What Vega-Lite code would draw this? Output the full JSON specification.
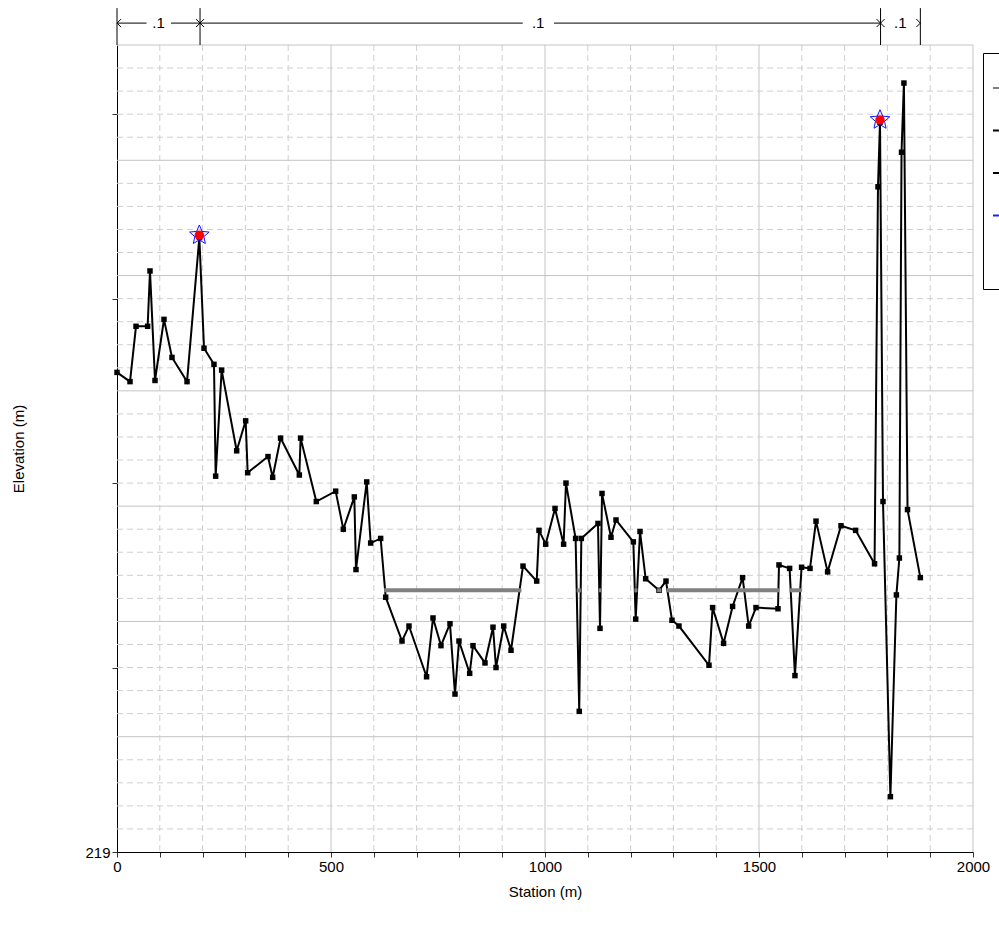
{
  "$schema": "https://vega.github.io/schema/vega-lite/v6.json",
  "width": 856,
  "height": 807,
  "autosize": {"type": "none"},
  "padding": {"left": 117, "top": 45, "right": 26, "bottom": 83},
  "background": "white",
  "config": {
    "view": {"stroke": null},
    "font": "Liberation Sans",
    "axis": {"grid": false, "labelFontSize": 15, "titleFontSize": 15, "titleFontWeight": "normal", "labelColor": "black", "titleColor": "black", "domainColor": "black", "tickColor": "#333333", "tickSize": 5, "labelFlush": false, "labelOverlap": false}
  },
  "datasets": {
    "gx": [
      {"v": 100, "k": "minor"}, {"v": 200, "k": "minor"}, {"v": 300, "k": "minor"}, {"v": 400, "k": "minor"}, {"v": 500, "k": "major"},
      {"v": 600, "k": "minor"}, {"v": 700, "k": "minor"}, {"v": 800, "k": "minor"}, {"v": 900, "k": "minor"}, {"v": 1000, "k": "major"},
      {"v": 1100, "k": "minor"}, {"v": 1200, "k": "minor"}, {"v": 1300, "k": "minor"}, {"v": 1400, "k": "minor"}, {"v": 1500, "k": "major"},
      {"v": 1600, "k": "minor"}, {"v": 1700, "k": "minor"}, {"v": 1800, "k": "minor"}, {"v": 1900, "k": "minor"}, {"v": 2000, "k": "major"}
    ],
    "gy": [
      {"v": 219.2, "k": "minor"}, {"v": 219.4, "k": "minor"}, {"v": 219.6, "k": "minor"}, {"v": 219.8, "k": "minor"}, {"v": 220, "k": "major"},
      {"v": 220.2, "k": "minor"}, {"v": 220.4, "k": "minor"}, {"v": 220.6, "k": "minor"}, {"v": 220.8, "k": "minor"}, {"v": 221, "k": "major"},
      {"v": 221.2, "k": "minor"}, {"v": 221.4, "k": "minor"}, {"v": 221.6, "k": "minor"}, {"v": 221.8, "k": "minor"}, {"v": 222, "k": "major"},
      {"v": 222.2, "k": "minor"}, {"v": 222.4, "k": "minor"}, {"v": 222.6, "k": "minor"}, {"v": 222.8, "k": "minor"}, {"v": 223, "k": "major"},
      {"v": 223.2, "k": "minor"}, {"v": 223.4, "k": "minor"}, {"v": 223.6, "k": "minor"}, {"v": 223.8, "k": "minor"}, {"v": 224, "k": "major"},
      {"v": 224.2, "k": "minor"}, {"v": 224.4, "k": "minor"}, {"v": 224.6, "k": "minor"}, {"v": 224.8, "k": "minor"}, {"v": 225, "k": "major"},
      {"v": 225.2, "k": "minor"}, {"v": 225.4, "k": "minor"}, {"v": 225.6, "k": "minor"}, {"v": 225.8, "k": "minor"}, {"v": 226, "k": "major"}
    ],
    "ground": [
      {"st": 0, "el": 223.16, "s": "Ground"},
      {"st": 30.4, "el": 223.08, "s": "Ground"},
      {"st": 44.4, "el": 223.56, "s": "Ground"},
      {"st": 71.6, "el": 223.56, "s": "Ground"},
      {"st": 77.1, "el": 224.04, "s": "Ground"},
      {"st": 88.8, "el": 223.09, "s": "Ground"},
      {"st": 109.8, "el": 223.62, "s": "Ground"},
      {"st": 128.5, "el": 223.29, "s": "Ground"},
      {"st": 163.6, "el": 223.08, "s": "Ground"},
      {"st": 192.4, "el": 224.33, "s": "Ground"},
      {"st": 203.3, "el": 223.37, "s": "Ground"},
      {"st": 226.6, "el": 223.23, "s": "Ground"},
      {"st": 230.5, "el": 222.26, "s": "Ground"},
      {"st": 244.5, "el": 223.18, "s": "Ground"},
      {"st": 279.6, "el": 222.48, "s": "Ground"},
      {"st": 300.6, "el": 222.74, "s": "Ground"},
      {"st": 305.3, "el": 222.29, "s": "Ground"},
      {"st": 352.8, "el": 222.43, "s": "Ground"},
      {"st": 363.7, "el": 222.25, "s": "Ground"},
      {"st": 382.2, "el": 222.59, "s": "Ground"},
      {"st": 426, "el": 222.27, "s": "Ground"},
      {"st": 429, "el": 222.59, "s": "Ground"},
      {"st": 465.7, "el": 222.04, "s": "Ground"},
      {"st": 510.9, "el": 222.13, "s": "Ground"},
      {"st": 528.8, "el": 221.8, "s": "Ground"},
      {"st": 554.5, "el": 222.08, "s": "Ground"},
      {"st": 558.4, "el": 221.45, "s": "Ground"},
      {"st": 583.4, "el": 222.21, "s": "Ground"},
      {"st": 592.7, "el": 221.68, "s": "Ground"},
      {"st": 616, "el": 221.72, "s": "Ground"},
      {"st": 627.8, "el": 221.21, "s": "Ground"},
      {"st": 665.9, "el": 220.83, "s": "Ground"},
      {"st": 682.2, "el": 220.96, "s": "Ground"},
      {"st": 723.3, "el": 220.52, "s": "Ground"},
      {"st": 738.3, "el": 221.03, "s": "Ground"},
      {"st": 757, "el": 220.79, "s": "Ground"},
      {"st": 778, "el": 220.98, "s": "Ground"},
      {"st": 789.7, "el": 220.37, "s": "Ground"},
      {"st": 799, "el": 220.83, "s": "Ground"},
      {"st": 824, "el": 220.55, "s": "Ground"},
      {"st": 831.8, "el": 220.79, "s": "Ground"},
      {"st": 859.8, "el": 220.64, "s": "Ground"},
      {"st": 878.5, "el": 220.95, "s": "Ground"},
      {"st": 885.5, "el": 220.6, "s": "Ground"},
      {"st": 903.5, "el": 220.96, "s": "Ground"},
      {"st": 920.6, "el": 220.75, "s": "Ground"},
      {"st": 948.6, "el": 221.48, "s": "Ground"},
      {"st": 980.6, "el": 221.35, "s": "Ground"},
      {"st": 986, "el": 221.79, "s": "Ground"},
      {"st": 1001.6, "el": 221.67, "s": "Ground"},
      {"st": 1023.4, "el": 221.98, "s": "Ground"},
      {"st": 1043.5, "el": 221.67, "s": "Ground"},
      {"st": 1049, "el": 222.2, "s": "Ground"},
      {"st": 1071.5, "el": 221.72, "s": "Ground"},
      {"st": 1080, "el": 220.22, "s": "Ground"},
      {"st": 1084.9, "el": 221.72, "s": "Ground"},
      {"st": 1123.8, "el": 221.85, "s": "Ground"},
      {"st": 1128.5, "el": 220.94, "s": "Ground"},
      {"st": 1133.2, "el": 222.11, "s": "Ground"},
      {"st": 1154.2, "el": 221.73, "s": "Ground"},
      {"st": 1165.9, "el": 221.88, "s": "Ground"},
      {"st": 1206.4, "el": 221.69, "s": "Ground"},
      {"st": 1211.9, "el": 221.02, "s": "Ground"},
      {"st": 1222, "el": 221.78, "s": "Ground"},
      {"st": 1235.2, "el": 221.37, "s": "Ground"},
      {"st": 1266.4, "el": 221.27, "s": "Ground"},
      {"st": 1282.7, "el": 221.35, "s": "Ground"},
      {"st": 1296.7, "el": 221.01, "s": "Ground"},
      {"st": 1313, "el": 220.96, "s": "Ground"},
      {"st": 1383.2, "el": 220.62, "s": "Ground"},
      {"st": 1391.6, "el": 221.12, "s": "Ground"},
      {"st": 1417.3, "el": 220.81, "s": "Ground"},
      {"st": 1438.3, "el": 221.13, "s": "Ground"},
      {"st": 1461.7, "el": 221.38, "s": "Ground"},
      {"st": 1475.9, "el": 220.96, "s": "Ground"},
      {"st": 1493, "el": 221.12, "s": "Ground"},
      {"st": 1544.4, "el": 221.11, "s": "Ground"},
      {"st": 1546.7, "el": 221.49, "s": "Ground"},
      {"st": 1571.5, "el": 221.46, "s": "Ground"},
      {"st": 1584, "el": 220.53, "s": "Ground"},
      {"st": 1599.5, "el": 221.47, "s": "Ground"},
      {"st": 1619.2, "el": 221.46, "s": "Ground"},
      {"st": 1633.2, "el": 221.87, "s": "Ground"},
      {"st": 1660.3, "el": 221.43, "s": "Ground"},
      {"st": 1691.6, "el": 221.83, "s": "Ground"},
      {"st": 1725.7, "el": 221.79, "s": "Ground"},
      {"st": 1770, "el": 221.5, "s": "Ground"},
      {"st": 1778, "el": 224.77, "s": "Ground"},
      {"st": 1782.7, "el": 225.33, "s": "Ground"},
      {"st": 1789.7, "el": 222.04, "s": "Ground"},
      {"st": 1807, "el": 219.48, "s": "Ground"},
      {"st": 1821, "el": 221.23, "s": "Ground"},
      {"st": 1828, "el": 221.55, "s": "Ground"},
      {"st": 1833, "el": 225.07, "s": "Ground"},
      {"st": 1838.6, "el": 225.67, "s": "Ground"},
      {"st": 1847, "el": 221.97, "s": "Ground"},
      {"st": 1877, "el": 221.38, "s": "Ground"}
    ],
    "ineff": [
      {"a": 624, "b": 945, "el": 221.27},
      {"a": 1074, "b": 1084, "el": 221.27},
      {"a": 1126, "b": 1131, "el": 221.27},
      {"a": 1209, "b": 1216, "el": 221.27},
      {"a": 1262, "b": 1271, "el": 221.27},
      {"a": 1284, "b": 1547, "el": 221.27},
      {"a": 1571, "b": 1600, "el": 221.27}
    ],
    "banks": [
      {"st": 192.4, "el": 224.35},
      {"st": 1782.7, "el": 225.35}
    ],
    "nbound": [
      {"st": 0, "lo": 226, "hi": 226.32}, {"st": 194, "lo": 226, "hi": 226.32}, {"st": 1784, "lo": 226, "hi": 226.32}, {"st": 1877, "lo": 226, "hi": 226.32}
    ],
    "nlines": [
      {"a": 0, "b": 69, "el": 226.19}, {"a": 126, "b": 194, "el": 226.19}, {"a": 194, "b": 948, "el": 226.19}, {"a": 1021, "b": 1784, "el": 226.19}
    ],
    "nleft": [{"st": 0, "el": 226.19}, {"st": 194, "el": 226.19}, {"st": 1784, "el": 226.19}],
    "nright": [{"st": 194, "el": 226.19}, {"st": 1784, "el": 226.19}, {"st": 1877, "el": 226.19}],
    "nlabels": [
      {"st": 97, "el": 226.19, "n": ".1"}, {"st": 984, "el": 226.19, "n": ".1"}, {"st": 1830, "el": 226.19, "n": ".1"}
    ]
  },
  "layer": [
    {
      "data": {"name": "gx"},
      "mark": {"type": "rule", "strokeWidth": 1},
      "encoding": {
        "x": {"field": "v", "type": "quantitative", "title": "Station (m)"},
        "color": {"field": "k", "type": "nominal", "scale": {"domain": ["major", "minor"], "range": ["#c4c4c4", "#cfcfcf"]}, "legend": null},
        "strokeDash": {"field": "k", "type": "nominal", "scale": {"domain": ["major", "minor"], "range": [[1, 0], [6, 4]]}, "legend": null}
      }
    },
    {
      "data": {"name": "gy"},
      "mark": {"type": "rule", "strokeWidth": 1},
      "encoding": {
        "y": {"field": "v", "type": "quantitative", "title": "Elevation (m)"},
        "color": {"field": "k", "type": "nominal", "scale": {"domain": ["major", "minor"], "range": ["#c4c4c4", "#cfcfcf"]}, "legend": null},
        "strokeDash": {"field": "k", "type": "nominal", "scale": {"domain": ["major", "minor"], "range": [[1, 0], [6, 4]]}, "legend": null}
      }
    },
    {
      "data": {"name": "ground"},
      "mark": {"type": "line", "strokeWidth": 2},
      "encoding": {
        "x": {
          "field": "st", "type": "quantitative", "title": "Station (m)",
          "scale": {"domain": [0, 2000], "nice": false, "zero": false},
          "axis": {
            "title": "Station (m)",
            "values": [0,100,200,300,400,500,600,700,800,900,1000,1100,1200,1300,1400,1500,1600,1700,1800,1900,2000],
            "tickCount": 100,
            "format": "d",
            "labelExpr": "datum.value % 500 === 0 ? datum.label : ''",
            "titlePadding": 10
          }
        },
        "y": {
          "field": "el", "type": "quantitative", "title": "Elevation (m)",
          "scale": {"domain": [219, 226], "nice": false, "zero": false},
          "axis": {
            "title": "Elevation (m)",
            "values": [219,219.2,219.4,219.6,219.8,220,220.2,220.4,220.6,220.8,221,221.2,221.4,221.6,221.8,222,222.2,222.4,222.6,222.8,223,223.2,223.4,223.6,223.8,224,224.2,224.4,224.6,224.8,225,225.2,225.4,225.6,225.8,226],
            "tickCount": 100,
            "format": "d",
            "labelExpr": "datum.value % 1 === 0 ? datum.label : ''",
            "titlePadding": 58
          }
        },
        "color": {
          "field": "s", "type": "nominal",
          "scale": {"domain": ["Ineff", "Ground", "Ground Pts", "Levee", "Bank Sta"], "range": ["#808080", "#000000", "#000000", "#2020ff", "#ffffff"]},
          "legend": {
            "orient": "none", "legendX": 866, "legendY": 8,
            "strokeColor": "black", "fillColor": "white",
            "padding": 24, "symbolOffset": -15,
            "symbolType": "stroke", "symbolStrokeWidth": 2, "symbolSize": 400,
            "rowPadding": 24.5, "labelFontSize": 14, "title": null
          }
        }
      }
    },
    {
      "data": {"name": "ground"},
      "mark": {"type": "point", "shape": "square", "filled": true, "size": 30, "color": "black", "opacity": 1},
      "encoding": {
        "x": {"field": "st", "type": "quantitative", "title": "Station (m)"},
        "y": {"field": "el", "type": "quantitative", "title": "Elevation (m)"}
      }
    },
    {
      "data": {"name": "ineff"},
      "mark": {"type": "rule", "color": "#808080", "strokeWidth": 4},
      "encoding": {
        "x": {"field": "a", "type": "quantitative", "title": "Station (m)"},
        "x2": {"field": "b"},
        "y": {"field": "el", "type": "quantitative", "title": "Elevation (m)"}
      }
    },
    {
      "data": {"name": "banks"},
      "mark": {"type": "point", "shape": "circle", "filled": true, "size": 90, "color": "red", "opacity": 1},
      "encoding": {
        "x": {"field": "st", "type": "quantitative", "title": "Station (m)"},
        "y": {"field": "el", "type": "quantitative", "title": "Elevation (m)"}
      }
    },
    {
      "data": {"name": "banks"},
      "mark": {"type": "point", "shape": "M0,-1L0.27,-0.37L0.951,-0.309L0.44,0.143L0.588,0.809L0,0.46L-0.588,0.809L-0.44,0.143L-0.951,-0.309L-0.27,-0.37Z", "filled": false, "size": 420, "color": "#1010ff", "strokeWidth": 1, "opacity": 1},
      "encoding": {
        "x": {"field": "st", "type": "quantitative", "title": "Station (m)"},
        "y": {"field": "el", "type": "quantitative", "title": "Elevation (m)"}
      }
    },
    {
      "data": {"name": "nbound"},
      "mark": {"type": "rule", "color": "black", "strokeWidth": 1},
      "encoding": {
        "x": {"field": "st", "type": "quantitative", "title": "Station (m)"},
        "y": {"field": "lo", "type": "quantitative", "title": "Elevation (m)"},
        "y2": {"field": "hi"}
      }
    },
    {
      "data": {"name": "nlines"},
      "mark": {"type": "rule", "color": "black", "strokeWidth": 1},
      "encoding": {
        "x": {"field": "a", "type": "quantitative", "title": "Station (m)"},
        "x2": {"field": "b"},
        "y": {"field": "el", "type": "quantitative", "title": "Elevation (m)"}
      }
    },
    {
      "data": {"name": "nleft"},
      "mark": {"type": "point", "shape": "M1,-1L0,0L1,1", "filled": false, "size": 64, "color": "black", "strokeWidth": 1, "opacity": 1},
      "encoding": {
        "x": {"field": "st", "type": "quantitative", "title": "Station (m)"},
        "y": {"field": "el", "type": "quantitative", "title": "Elevation (m)"}
      }
    },
    {
      "data": {"name": "nright"},
      "mark": {"type": "point", "shape": "M-1,-1L0,0L-1,1", "filled": false, "size": 64, "color": "black", "strokeWidth": 1, "opacity": 1},
      "encoding": {
        "x": {"field": "st", "type": "quantitative", "title": "Station (m)"},
        "y": {"field": "el", "type": "quantitative", "title": "Elevation (m)"}
      }
    },
    {
      "data": {"name": "nlabels"},
      "mark": {"type": "text", "fontSize": 15, "color": "black", "baseline": "middle", "align": "center"},
      "encoding": {
        "x": {"field": "st", "type": "quantitative", "title": "Station (m)"},
        "y": {"field": "el", "type": "quantitative", "title": "Elevation (m)"},
        "text": {"field": "n"}
      }
    }
  ],
  "resolve": {"scale": {"color": "independent", "strokeDash": "independent"}}
}
